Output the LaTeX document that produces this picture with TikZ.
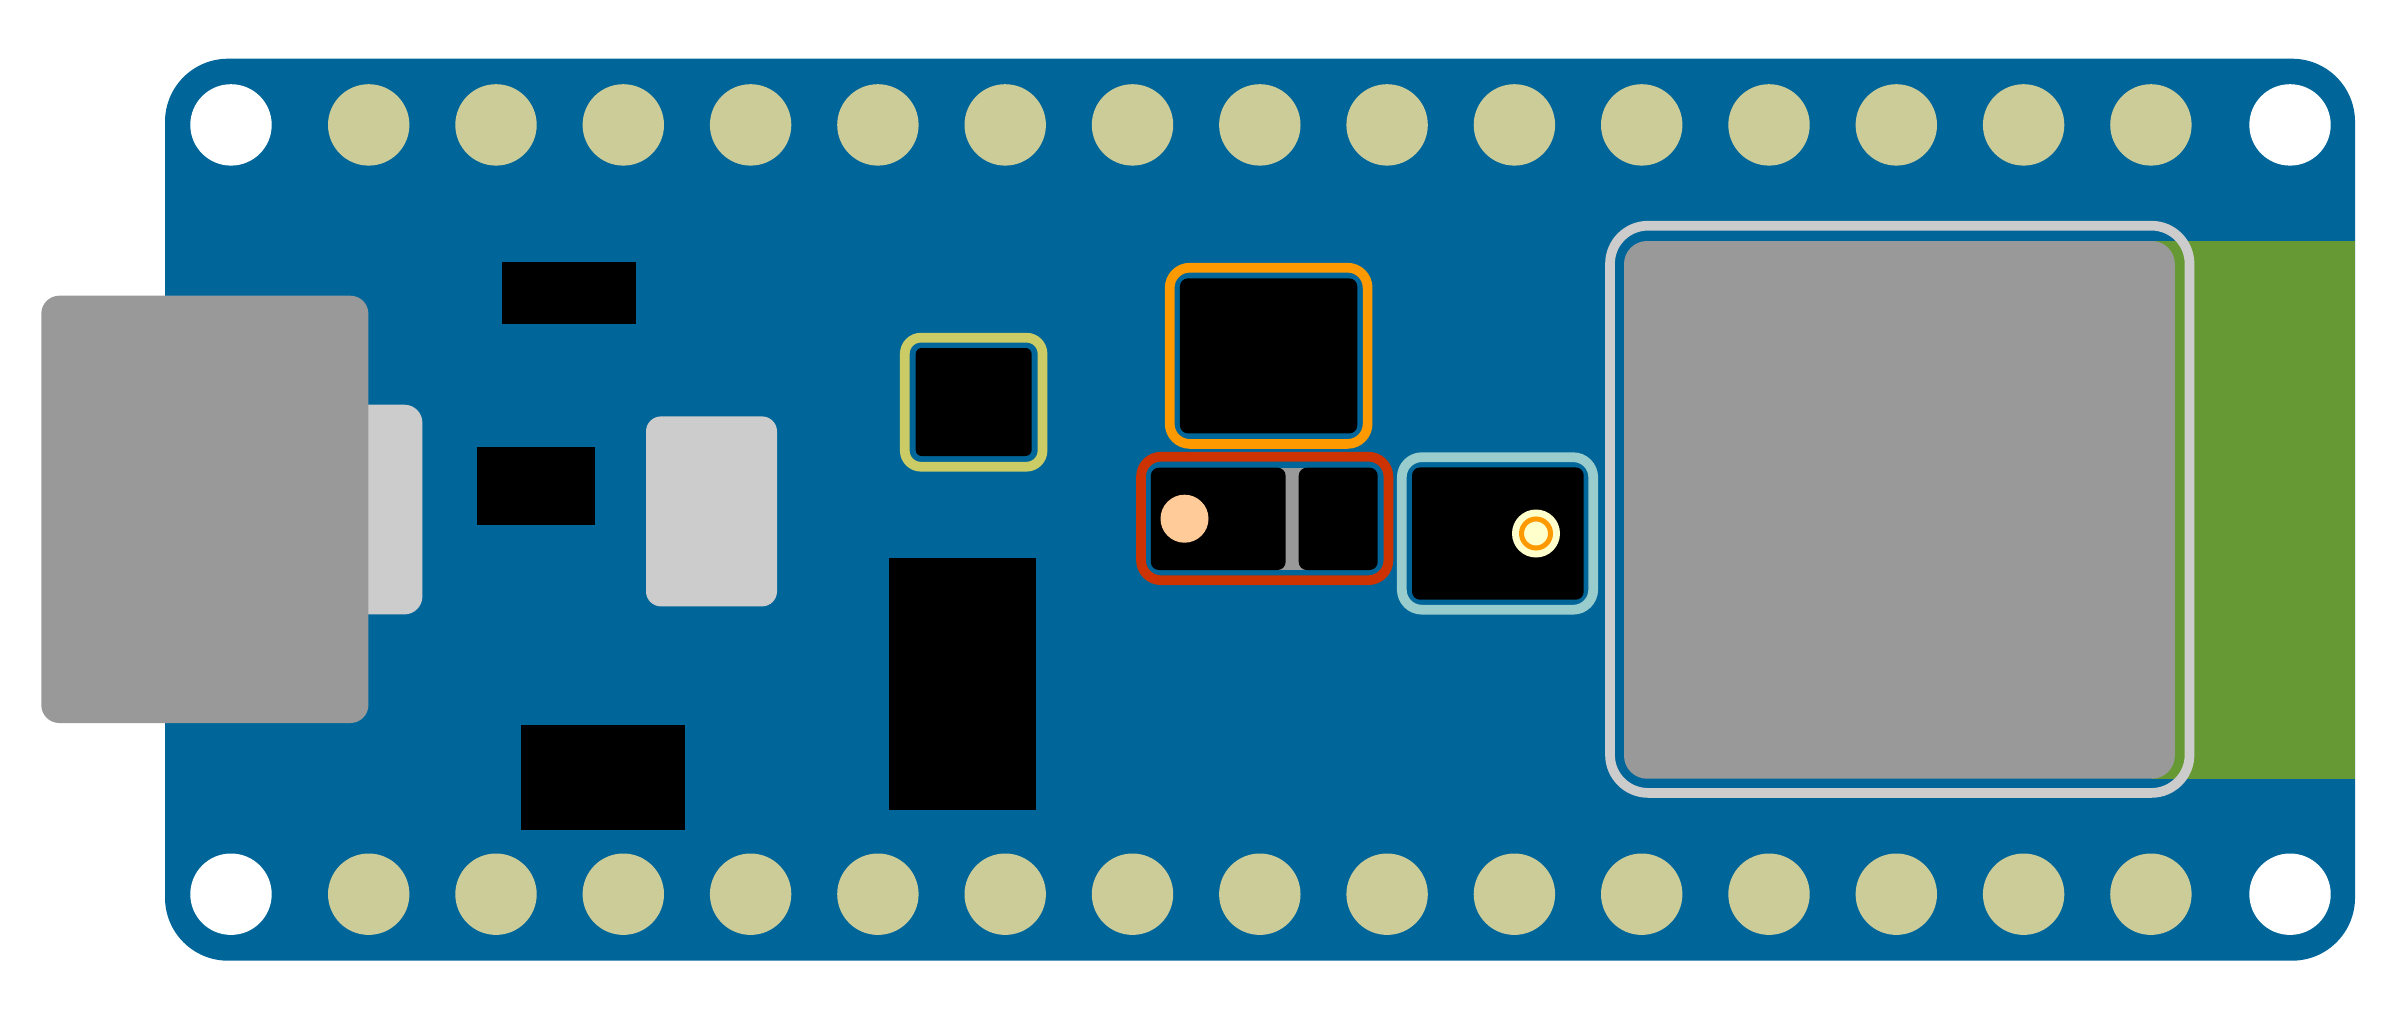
\documentclass[tikz,border=0pt]{standalone}
\definecolor{pcbblue}{HTML}{006699}
\definecolor{padgold}{HTML}{CCCC99}
\definecolor{shieldgray}{HTML}{999999}
\definecolor{lightgray}{HTML}{CCCCCC}
\definecolor{antgreen}{HTML}{669933}
\definecolor{ringyellow}{HTML}{CCCC66}
\definecolor{ringorange}{HTML}{FF9900}
\definecolor{ringred}{HTML}{CC3300}
\definecolor{ringteal}{HTML}{99CCCC}
\definecolor{ledpeach}{HTML}{FFCC99}
\definecolor{ledyellow}{HTML}{FFFFCC}
\tikzset{
  board/.style={fill=pcbblue,rounded corners=6.3mm},
  hole/.style={fill=white},
  pad/.style={fill=padgold},
  chip/.style={fill=black},
  chipround/.style={fill=black,rounded corners=0.8mm},
  metal/.style={fill=shieldgray,rounded corners=1.8mm},
  plastic/.style={fill=lightgray,rounded corners=1.8mm},
  ring/.style={draw=#1,line width=0.97mm,rounded corners=2mm},
}
\begin{document}
\begin{tikzpicture}[x=0.01cm,y=-0.01cm]
  \useasboundingbox[fill=white] (0,-0.7) rectangle (2403,1023.3);
  % board
  \fill[board] (165,58) rectangle (2355,960);
  \foreach \y in {124.2,893.5}{
    \fill[hole] (231,\y) circle[radius=40.7];
    \fill[hole] (2290,\y) circle[radius=40.7];
    \foreach \i in {0,...,14}
      \fill[pad] ({368.7+127.3*\i},\y) circle[radius=40.7];
  }
  % usb connector
  \fill[plastic] (300,404) rectangle (422.4,613.7);
  \fill[metal] (41.3,295) rectangle (368.4,722.3);
  \fill[plastic,rounded corners=1.5mm] (646,415.7) rectangle (777,605.7);
  % plain chips
  \fill[chip] (502,261) rectangle (636.2,323.3);
  \fill[chip] (476.5,446) rectangle (595.4,524.7);
  \fill[chip] (521.4,724.3) rectangle (685.2,829.7);
  \fill[chip] (889,557.7) rectangle (1035.5,809.5);
  % yellow part
  \draw[ring=ringyellow,rounded corners=1.6mm] (904.8,337) rectangle (1042.5,466);
  \fill[chipround,rounded corners=0.6mm] (915.7,347.3) rectangle (1031.6,455.3);
  % orange part
  \draw[ring=ringorange] (1169.7,267) rectangle (1367.6,443.2);
  \fill[chipround] (1179.9,277.7) rectangle (1357.3,432.7);
  % red part
  \draw[ring=ringred] (1141,456) rectangle (1388.4,579.5);
  \fill[shieldgray] (1279,467) rectangle (1306,569.3);
  \fill[chipround] (1150.8,467) rectangle (1285.6,569.3);
  \fill[chipround] (1298.7,467) rectangle (1377.7,569.3);
  \fill[ledpeach] (1184.5,518) circle[radius=24];
  % teal part
  \draw[ring=ringteal] (1401.8,456.5) rectangle (1593.2,609);
  \fill[chipround] (1412,466.7) rectangle (1583.7,599);
  \fill[ledyellow] (1536,532.8) circle[radius=24];
  \draw[draw=ringorange,line width=0.5mm] (1536,532.8) circle[radius=14.5];
  % module and antenna
  \fill[antgreen] (2152,240.3) rectangle (2355,778);
  \fill[fill=shieldgray,rounded corners=2.3mm] (1624,240.3) rectangle (2174.8,778);
  \draw[ring=lightgray,rounded corners=3.8mm] (1610,225) rectangle (2189.5,792.2);
\end{tikzpicture}
\end{document}
